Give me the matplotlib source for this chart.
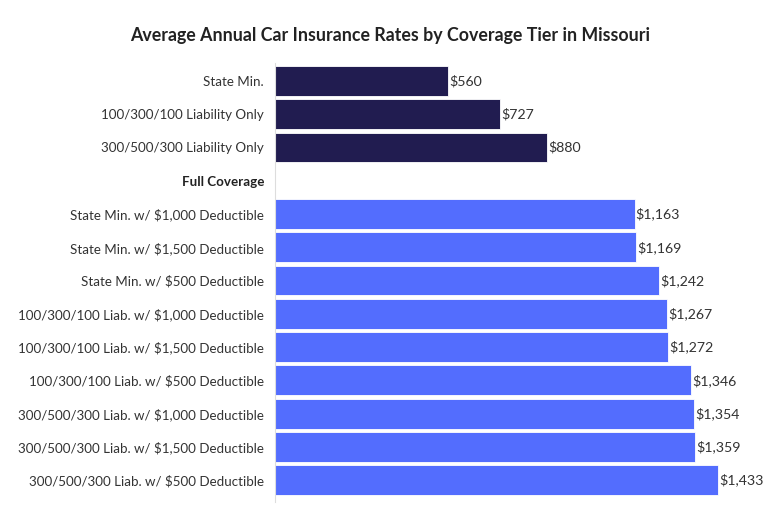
import matplotlib
matplotlib.use("Agg")
import matplotlib.pyplot as plt

categories = [
    "State Min.",
    "100/300/100 Liability Only",
    "300/500/300 Liability Only",
    "Full Coverage",
    "State Min. w/ $1,000 Deductible",
    "State Min. w/ $1,500 Deductible",
    "State Min. w/ $500 Deductible",
    "100/300/100 Liab. w/ $1,000 Deductible",
    "100/300/100 Liab. w/ $1,500 Deductible",
    "100/300/100 Liab. w/ $500 Deductible",
    "300/500/300 Liab. w/ $1,000 Deductible",
    "300/500/300 Liab. w/ $1,500 Deductible",
    "300/500/300 Liab. w/ $500 Deductible",
]
values = [560, 727, 880, None, 1163, 1169, 1242, 1267, 1272, 1346, 1354, 1359, 1433]
groups = ["liab", "liab", "liab", "header", "full", "full", "full", "full", "full", "full", "full", "full", "full"]

colors = {"liab": "#211C50", "full": "#536DFE"}
title = "Average Annual Car Insurance Rates by Coverage Tier in Missouri"

W, H = 780, 520
fig = plt.figure(figsize=(W / 100, H / 100), dpi=100)
ax = fig.add_axes([275 / W, 1 - 502 / H, (760 - 275) / W, (502 - 63) / H])

ys = list(range(len(categories)))
for y, v, g in zip(ys, values, groups):
    if v is None:
        continue
    ax.barh(y, v, height=0.9, color=colors[g], edgecolor="#ffffff", linewidth=0.6)
    ax.text(v + 4, y, f"${v:,}", va="center", ha="left", fontsize=10.2,
            family="Lato", color="#333333")

ax.set_xlim(0, 485 / (443 / 1433))
ax.set_ylim(12.66, -0.54)
ax.set_yticks(ys)
ax.set_yticklabels(categories, family="Lato", fontsize=9.6, color="#333333")
for lbl, g in zip(ax.get_yticklabels(), groups):
    if g == "header":
        lbl.set_fontweight("bold")
        lbl.set_color("#222222")
ax.tick_params(axis="y", length=0, pad=8)
ax.set_xticks([])
for s in ["top", "right", "bottom"]:
    ax.spines[s].set_visible(False)
ax.spines["left"].set_color("#dddddd")
ax.spines["left"].set_linewidth(0.8)

fig.text(390 / W, 1 - 35 / H, title, ha="center", va="center", fontsize=12.8,
         fontweight="bold", family="Lato", color="#222222")

fig.savefig("out.png", dpi=100, facecolor="white")
